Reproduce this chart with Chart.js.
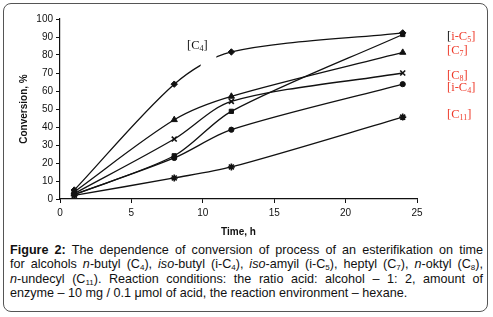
<!DOCTYPE html>
<html>
<head>
<meta charset="utf-8">
<script src="https://cdn.jsdelivr.net/npm/chart.js@4.4.0/dist/chart.umd.min.js"></script>
<style>
  html, body { margin: 0; padding: 0; background: #fff; }
  body { width: 493px; height: 317px; position: relative; overflow: hidden; }
  #frame { position: absolute; left: 3px; top: 3px; width: 483px; height: 307px;
           border: 1.5px solid #555; border-radius: 8px; }
  #chart { position: absolute; left: 0; top: 0; }
  #caption { position: absolute; left: 10px; top: 243px; width: 473px;
             font-family: "Liberation Sans", Arial, sans-serif; font-size: 12.6px;
             line-height: 14.4px; color: #111; }
  #caption div { text-align: justify; text-align-last: justify; white-space: nowrap; }
  #caption div.last { text-align-last: left; }
  #caption sub { font-size: 8px; vertical-align: -2px; line-height: 0; }
</style>
</head>
<body>
<div id="frame"></div>
<canvas id="chart" width="493" height="242"></canvas>
<div id="caption">
  <div><b>Figure 2:</b> The dependence of conversion of process of an esterifikation on time</div>
  <div>for alcohols <i>n</i>-butyl (C<sub>4</sub>), <i>iso</i>-butyl (i-C<sub>4</sub>), <i>iso</i>-amyil (i-C<sub>5</sub>), heptyl (C<sub>7</sub>), <i>n</i>-oktyl (C<sub>8</sub>),</div>
  <div><i>n</i>-undecyl (C<sub>11</sub>). Reaction conditions: the ratio acid: alcohol &ndash; 1: 2, amount of</div>
  <div class="last">enzyme &ndash; 10 mg / 0.1 μmol of acid, the reaction environment &ndash; hexane.</div>
</div>
<script>
// data
const timeH = [1, 8, 12, 24];
const c4  = [5, 63.8, 81.7, 92.3];
const iC5 = [2.5, 24, 48.7, 91.4];
const c7  = [4, 44, 57, 81.4];
const c8  = [3, 33.3, 54.2, 70];
const iC4 = [2.5, 22.8, 38.5, 63.8];
const c11 = [2, 11.7, 17.8, 45.5];
const xTicks = [0, 5, 10, 15, 20, 25];
const yTicks = [0, 10, 20, 30, 40, 50, 60, 70, 80, 90, 100];

const red = "#ee3a2a";

function pts(ys) {
    return timeH.map((t, i) => ({ x: t, y: ys[i] }));
}

function serie(label, ys, style, r) {
    return {
        label: label,
        data: pts(ys),
        borderColor: "#111",
        backgroundColor: "#111",
        borderWidth: 1.3,
        pointStyle: style,
        pointRadius: r,
        pointBorderWidth: style === "crossRot" || style === "star" ? 1.6 : 1,
        tension: 0.3,
        clip: false
    };
}

// draw text with subscript pieces: [[text, sub?, color], ...]
function drawParts(ctx, x, y, parts) {
    parts.forEach(p => {
        const sub = p[1];
        ctx.font = (sub ? "8px" : "12.5px") + " 'Liberation Serif', 'Times New Roman', serif";
        ctx.fillStyle = p[2];
        ctx.fillText(p[0], x, sub ? y + 3 : y);
        x += ctx.measureText(p[0]).width;
    });
}

const labelsPlugin = {
    id: "labels",
    afterDatasetsDraw(chart) {
        const ctx = chart.ctx;
        const xs = chart.scales.x, ys = chart.scales.y;
        ctx.save();
        // white box that hides part of the C4 curve behind its label
        ctx.fillStyle = "#fff";
        const x0 = xs.getPixelForValue(9.85), x1 = xs.getPixelForValue(10.95);
        const y0 = ys.getPixelForValue(86), y1 = ys.getPixelForValue(70);
        ctx.fillRect(x0, y0, x1 - x0, y1 - y0);

        ctx.textBaseline = "middle";
        ctx.textAlign = "left";
        drawParts(ctx, 187, 46, [["[C", false, "#111"], ["4", true, "#111"], ["]", false, "#111"]]);
        const lx = 447;
        drawParts(ctx, lx, 37, [["[", false, "#111"], ["i-C", false, red], ["5", true, red], ["]", false, red]]);
        drawParts(ctx, lx, 51, [["[C", false, red], ["7", true, red], ["]", false, red]]);
        drawParts(ctx, lx, 76, [["[C", false, red], ["8", true, red], ["]", false, red]]);
        drawParts(ctx, lx, 88, [["[i-C", false, red], ["4", true, red], ["]", false, red]]);
        drawParts(ctx, lx, 115, [["[C", false, red], ["11", true, red], ["]", false, red]]);
        ctx.restore();
    }
};

const tickFont = { family: "'Liberation Sans', Arial, sans-serif", size: 10 };
const titleFont = { family: "'Liberation Sans', Arial, sans-serif", size: 10, weight: "bold" };

new Chart(document.getElementById("chart"), {
    type: "line",
    data: {
        datasets: [
            serie("C4", c4, "rectRot", 3.2),
            serie("i-C5", iC5, "rect", 3),
            serie("C7", c7, "triangle", 3.6),
            serie("C8", c8, "crossRot", 3.5),
            serie("i-C4", iC4, "circle", 2.6),
            serie("C11", c11, "star", 3.5)
        ]
    },
    options: {
        responsive: false,
        animation: false,
        layout: { padding: { top: 19, right: 76, left: 14, bottom: 0 } },
        plugins: { legend: { display: false }, tooltip: { enabled: false } },
        scales: {
            x: {
                type: "linear",
                min: 0, max: 25,
                afterBuildTicks: s => { s.ticks = xTicks.map(v => ({ value: v })); },
                ticks: { color: "#111", font: tickFont, padding: 4 },
                grid: { drawOnChartArea: false, color: "#111", tickLength: 4 },
                border: { color: "#111", width: 1.2 },
                title: { display: true, text: "Time, h", color: "#111", font: titleFont, padding: { top: 7 } },
                afterFit: s => { s.height = 43; }
            },
            y: {
                min: 0, max: 100,
                afterBuildTicks: s => { s.ticks = yTicks.map(v => ({ value: v })); },
                ticks: { color: "#111", font: tickFont, padding: 3 },
                grid: { drawOnChartArea: false, color: "#111", tickLength: 4 },
                border: { color: "#111", width: 1.2 },
                title: { display: true, text: "Conversion, %", color: "#111", font: titleFont, padding: { bottom: 4 } },
                afterFit: s => { s.width = 46; }
            }
        }
    },
    plugins: [labelsPlugin]
});
</script>
</body>
</html>
